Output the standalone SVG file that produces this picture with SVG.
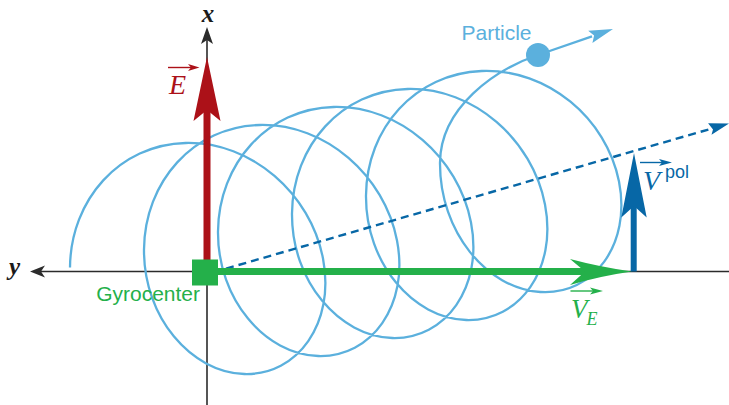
<svg xmlns="http://www.w3.org/2000/svg" width="729" height="405" viewBox="0 0 729 405">
<style>
.axis{stroke:#2b2b2b;stroke-width:1.6;fill:none}
.axhead{fill:#2b2b2b}
.orbit{stroke:#5BB0DD;stroke-width:2.3;fill:none}
.lb{fill:#5BB0DD}
.red{fill:#AC1118}
.grn{fill:#24B04A}
.blu{fill:#0767A6}
.sans{font-family:"Liberation Sans",Arial,sans-serif}
.ser{font-family:"Liberation Serif","Times New Roman",serif;font-style:italic}
.axlab{font-family:"Liberation Serif","Times New Roman",serif;font-style:italic;font-weight:bold;font-size:25px;fill:#1a1a1a}
</style>
<rect width="729" height="405" fill="#ffffff"/>

<g id="axes">
<line class="axis" x1="40" y1="271.5" x2="729" y2="271.5"/>
<line class="axis" x1="207" y1="40" x2="207" y2="405"/>
<polygon class="axhead" points="207,27 213,44 207,40 201,44"/>
<polygon class="axhead" points="30,271.5 45,265.5 41,271.5 45,277.5"/>
<text class="axlab" x="208" y="22" text-anchor="middle">x</text>
<text class="axlab" x="9" y="275">y</text>
</g>

<g id="trajectory">
<path class="orbit" d="M70,267.5 C70.54,199.64 119.55,144.58 185.7,143 C251.85,141.42 310.53,193.81 323,258.5 C335.47,323.19 297.44,375.58 244.3,374 C191.16,372.42 143.46,317.36 144,249.5 C144.54,181.64 193.55,126.58 259.7,125 C325.85,123.42 384.53,175.81 397,240.5 C409.47,305.19 371.44,357.58 318.3,356 C265.16,354.42 217.46,299.36 218,231.5 C218.54,163.64 267.55,108.58 333.7,107 C399.85,105.42 458.53,157.81 471,222.5 C483.47,287.19 445.44,339.58 392.3,338 C339.16,336.42 291.46,281.36 292,213.5 C292.54,145.64 341.55,90.58 407.7,89 C473.85,87.42 532.53,139.81 545,204.5 C557.47,269.19 519.44,321.58 466.3,320 C413.16,318.42 365.46,263.36 366,195.5 C366.54,127.64 415.55,73.5 481.7,71 C547.85,68.5 606.53,118.57 619,181.5 C631.47,244.43 593.44,295.34 540.3,292 C487.16,288.66 439.46,232.12 440,162.5 C440.5,107 495.4,69.4 538,55 L592,36.4"/>
</g>

<g id="connectors">
<g id="drift">
<line x1="226" y1="268.6" x2="712" y2="128.5" stroke="#0767A6" stroke-width="2.4" stroke-dasharray="8,5"/>
<polygon class="blu" points="729,123.5 708.1,123.2 713,129.6 711.5,134.8"/>
</g>
</g>

<g id="particle">
<circle class="lb" cx="538" cy="55" r="12"/>
<polygon class="lb" points="613,29 588.2,30.7 594.1,35.5 592.4,43"/>
<text class="sans lb" x="461.5" y="40" font-size="21">Particle</text>
</g>

<g id="E-field">
<rect class="red" x="203.5" y="108" width="7" height="154"/>
<polygon class="red" points="207,57 220.5,121 207,110 193.5,121"/>
<text class="ser red" x="169" y="94" font-size="28">E</text>
<line x1="168" y1="67.5" x2="192" y2="67.5" stroke="#AC1118" stroke-width="1.4"/>
<polygon class="red" points="199.5,67.5 188,64 191,67.5 188,71"/>
</g>

<g id="VE">
<rect class="grn" x="216" y="268" width="372" height="7"/>
<path class="grn" d="M632,271.5 Q600,267 570,259 L585,271.5 L570,285 Q600,276 632,271.5 Z"/>
<text class="ser grn" x="571" y="318" font-size="27">V</text>
<text class="ser grn" x="586.5" y="325" font-size="18">E</text>
<line x1="570.5" y1="291" x2="596" y2="291" stroke="#24B04A" stroke-width="1.4"/>
<polygon class="grn" points="603,291 590,287.5 593,291 590,294.5"/>
</g>

<g id="Vpol">
<rect class="blu" x="630.7" y="204" width="6" height="67.5"/>
<polygon class="blu" points="634,153 646.7,217.5 634,206 621.3,217.5"/>
<text class="ser blu" x="643" y="190" font-size="28">V</text>
<text class="sans blu" x="665" y="178" font-size="18">pol</text>
<line x1="640" y1="162.5" x2="664" y2="162.5" stroke="#0767A6" stroke-width="1.4"/>
<polygon class="blu" points="672,162.5 659,159 662,162.5 659,166"/>
</g>

<g id="gyrocenter">
<rect class="grn" x="192" y="259.5" width="26" height="26"/>
<text class="sans grn" x="200" y="301" font-size="21" text-anchor="end">Gyrocenter</text>
</g>
</svg>
